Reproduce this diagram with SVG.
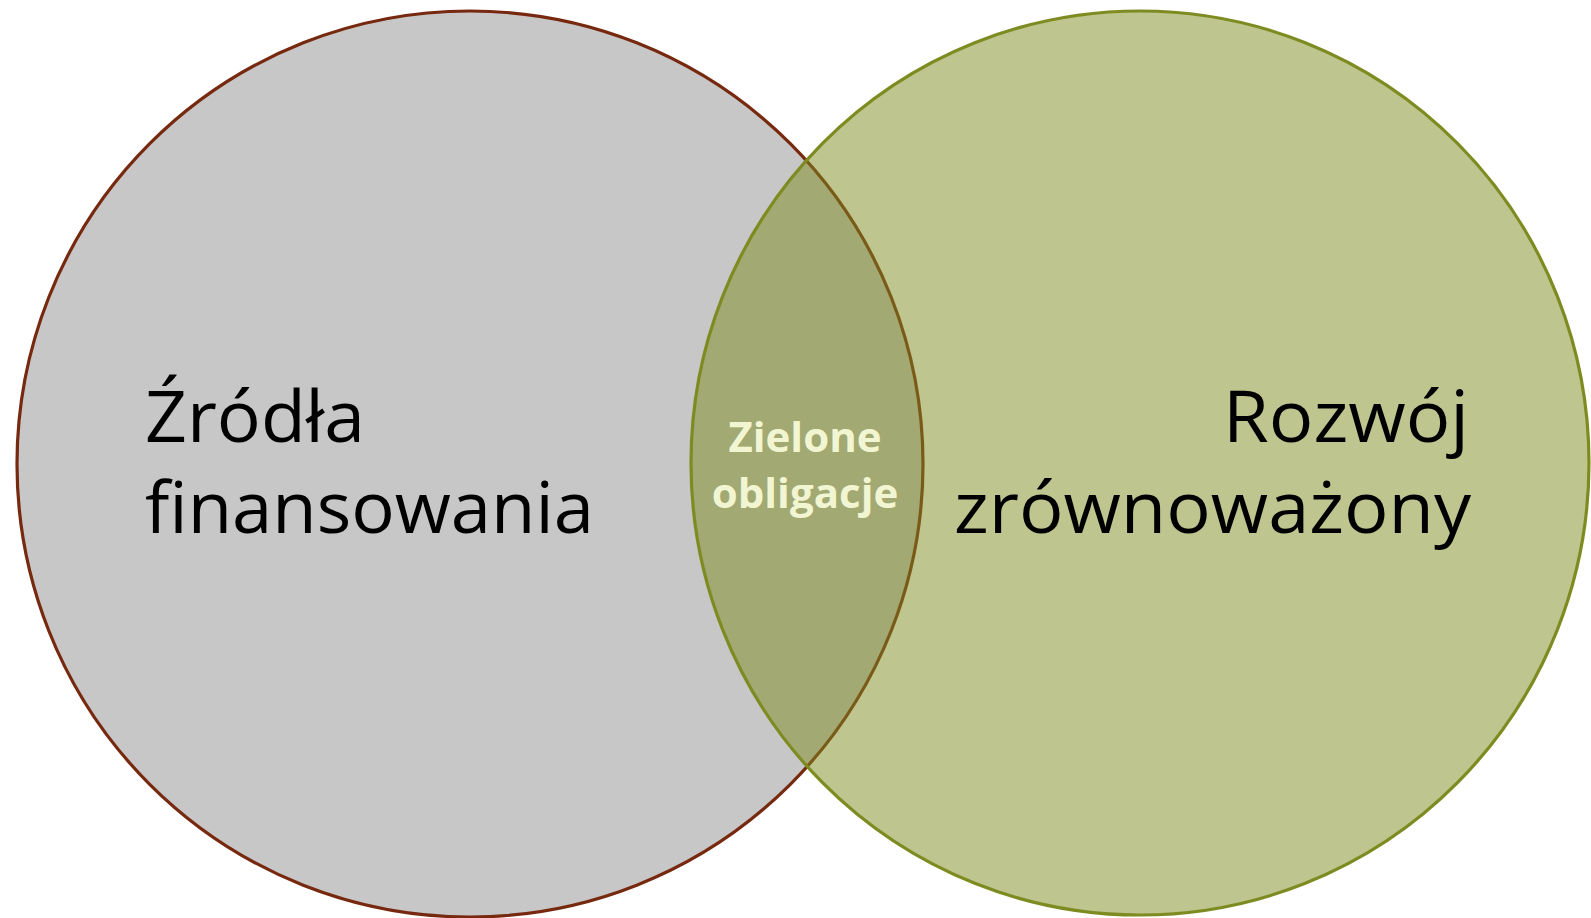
<svg xmlns="http://www.w3.org/2000/svg" width="1591" height="918" viewBox="0 0 1591 918">
  <style>
    .big { font-family: "Open Sans", "Noto Sans", "Liberation Sans", sans-serif; font-size: 72px; fill: #000000; }
    .mid { font-family: "Open Sans", "Noto Sans", "Liberation Sans", sans-serif; font-size: 42px; font-weight: bold; fill: #F2F5D2; text-anchor: middle; }
  </style>
  <rect x="0" y="0" width="1591" height="918" fill="#FFFFFF"/>
  <g id="node-zrodla">
    <ellipse cx="470" cy="464" rx="453" ry="453" fill="#C7C7C7" stroke="#77290F" stroke-width="3.2"/>
  </g>
  <g id="node-rozwoj">
    <ellipse cx="1140" cy="463" rx="449" ry="452" fill="#7E8B20" fill-opacity="0.5" stroke="#7E8B20" stroke-width="3.2"/>
  </g>
  <g id="labels">
    <text class="big" x="145" y="442" textLength="220" lengthAdjust="spacingAndGlyphs">Źródła</text>
    <text class="big" x="145" y="533" textLength="449" lengthAdjust="spacingAndGlyphs">finansowania</text>
    <text class="big" x="1223" y="442" textLength="246" lengthAdjust="spacingAndGlyphs">Rozwój</text>
    <text class="big" x="954" y="533" textLength="517" lengthAdjust="spacingAndGlyphs">zrównoważony</text>
  </g>
  <g id="node-zielone">
    <text class="mid" x="805" y="452">Zielone</text>
    <text class="mid" x="805" y="508">obligacje</text>
  </g>
</svg>
